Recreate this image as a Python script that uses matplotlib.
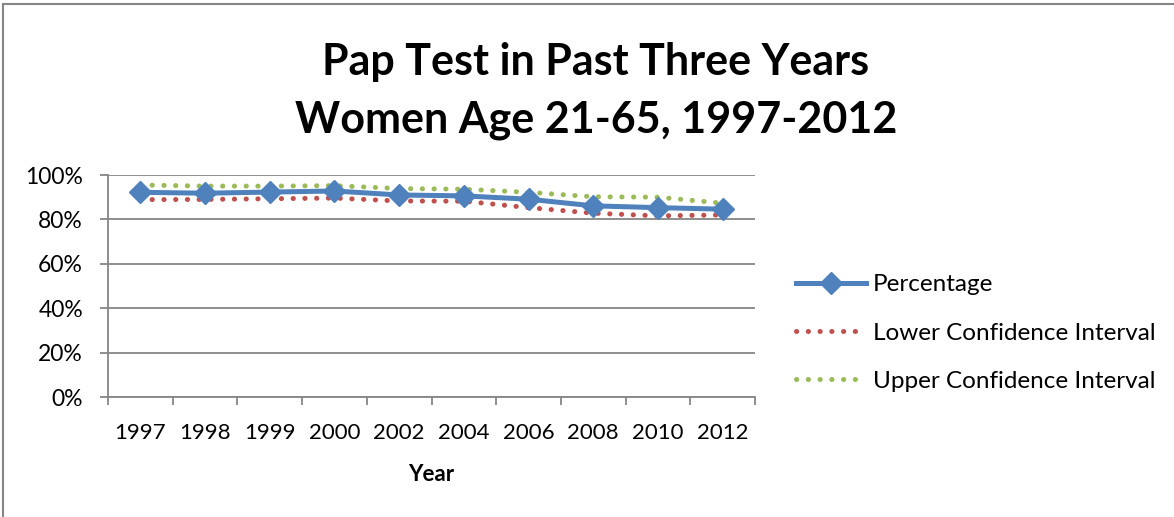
"""Pap test line chart with confidence interval bounds."""

import matplotlib

matplotlib.use("Agg")
from matplotlib import pyplot as plt
from matplotlib.lines import Line2D
import numpy as np

plt.rcParams["font.family"] = ["Lato", "DejaVu Sans"]

# data
years = ["1997", "1998", "1999", "2000", "2002", "2004", "2006", "2008", "2010", "2012"]
percentage = [92.2, 91.8, 92.3, 92.8, 91.0, 90.6, 89.1, 86.1, 85.3, 84.6]
lower_ci = [88.9, 89.0, 89.3, 89.6, 88.3, 88.2, 85.3, 82.8, 81.6, 82.0]
upper_ci = [95.5, 95.0, 95.0, 95.2, 93.9, 93.6, 92.2, 90.2, 90.0, 87.3]

blue = "#4F81BD"
red = "#C0504D"
green = "#9BBB59"
grey = "#868686"

W, H = 1174, 517
fig = plt.figure(figsize=(W / 100, H / 100), dpi=100)
ax = fig.add_axes([108 / W, (H - 397) / H, (755 - 108) / W, (397 - 175) / H])

x = np.arange(len(years))
dots = (0, (0.05, 2.3))
ax.plot(x, np.array(lower_ci) / 100, color=red, lw=3.6, linestyle=dots,
        dash_capstyle="round", label="Lower Confidence Interval", zorder=3)
ax.plot(x, np.array(upper_ci) / 100, color=green, lw=3.6, linestyle=dots,
        dash_capstyle="round", label="Upper Confidence Interval", zorder=3)
ax.plot(x, np.array(percentage) / 100, color=blue, lw=3.6, marker="D", ms=11,
        markeredgecolor=blue, label="Percentage", zorder=4)

ax.set_xlim(-0.5, len(years) - 0.5)
ax.set_ylim(0, 1)
ax.set_yticks(np.arange(0, 1.01, 0.2))
ax.set_yticklabels([f"{int(round(v * 100))}%" for v in np.arange(0, 1.01, 0.2)])
ax.grid(axis="y", color=grey, lw=1.3)
ax.set_axisbelow(True)

ax.set_xticks(x)
ax.set_xticklabels(years)
ax.set_xticks(np.arange(-0.5, len(years)), minor=True)
ax.tick_params(axis="x", which="major", length=0, pad=19, labelsize=16)
ax.tick_params(axis="x", which="minor", length=6, width=1.3, color=grey)
ax.tick_params(axis="y", length=6, width=1.3, color=grey, pad=12, labelsize=16.5)

for side in ["top", "right"]:
    ax.spines[side].set_visible(False)
for side in ["left", "bottom"]:
    ax.spines[side].set_color(grey)
    ax.spines[side].set_linewidth(1.3)

ax.set_xlabel("Year", fontsize=16, fontweight="bold", labelpad=15)

fig.text(596 / W, 1 - 62 / H, "Pap Test in Past Three Years", ha="center", va="center",
         fontsize=31, fontweight="bold")
fig.text(596 / W, 1 - 120 / H, "Women Age 21-65, 1997-2012", ha="center", va="center",
         fontsize=31, fontweight="bold")

handles, labels = ax.get_legend_handles_labels()
order = [2, 0, 1]
fig.legend([handles[i] for i in order], [labels[i] for i in order],
           loc="center left", bbox_to_anchor=(796 / W, 1 - 333 / H), frameon=False,
           fontsize=17.5, handlelength=2.9, handletextpad=0.25, labelspacing=1.13,
           borderpad=0, borderaxespad=0, numpoints=1)

# chart area border (top and left edges visible)
fig.add_artist(Line2D([3 / W, 3 / W], [0, 1 - 4 / H], color=grey, lw=1.5))
fig.add_artist(Line2D([3 / W, 1], [1 - 4 / H, 1 - 4 / H], color=grey, lw=1.5))

fig.savefig("out.png", dpi=100)
